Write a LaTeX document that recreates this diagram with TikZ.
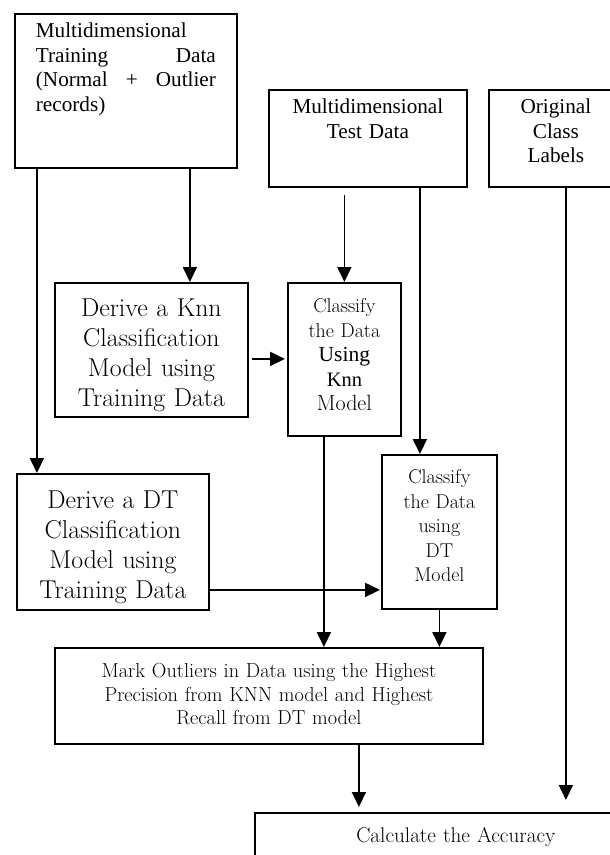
\documentclass[tikz,border=0pt]{standalone}
\usepackage{fontspec}
\usepackage{tikz}
\usetikzlibrary{arrows.meta}
\newfontfamily\timesfont{Liberation Serif}

\begin{document}
\begin{tikzpicture}[
  x=1pt, y=-1pt,
  box/.style={draw, line width=1.8pt, anchor=north west, inner xsep=6pt, inner ysep=8pt},
  times text/.style={font=\timesfont\fontsize{21.2}{24.5}\selectfont},
  big text/.style={font=\fontsize{25.8}{30}\selectfont, align=center, inner ysep=14pt},
  small text/.style={font=\fontsize{20}{24.5}\selectfont, align=center},
  arr/.style={line width=1.8pt, -{Triangle[length=15pt, width=14pt]}}
]
  \useasboundingbox (0,0) rectangle (610,855);

  % Input data
  \node[box, times text, align=left, text width=180pt, inner xsep=21pt, text height=16pt, text depth=122pt] (train) at (14,13)
    {Multidimensional\\Training\hfill Data\\(Normal\hfill+\hfill Outlier\\records)};
  \node[box, times text, align=center, text width=186pt, text height=16pt, text depth=65pt] (test) at (268,89)
    {Multidimensional\\Test Data};
  \node[box, times text, align=center, text width=122pt, text height=16pt, text depth=65pt] (labels) at (488,89)
    {Original\\Class\\Labels};

  % Models and classifiers
  \node[box, big text, text width=181pt, text height=20pt, text depth=86pt] (knnmodel) at (54,282)
    {Derive a Knn\\Classification\\Model using\\Training Data};
  \node[box, small text, text width=101pt, text height=22pt, text depth=115pt] (knnclassify) at (287,282)
    {Classify\\the Data\\{\timesfont\fontsize{21.5}{24}\selectfont Using}\\{\timesfont\fontsize{20.5}{24}\selectfont Knn}\\{\fontsize{22}{24}\selectfont Model}};
  \node[box, big text, text width=180pt, text height=21pt, text depth=87pt] (dtmodel) at (16,473)
    {Derive a DT\\Classification\\Model using\\Training Data};
  \node[box, small text, text width=103pt, text height=21pt, text depth=117pt] (dtclassify) at (381,454)
    {Classify\\the Data\\using\\DT\\Model};

  % Results
  \node[box, small text, font=\fontsize{20.3}{23.5}\selectfont, text width=416pt, text height=22pt, text depth=58pt] (mark) at (54,647)
    {Mark Outliers in Data using the Highest\\Precision from KNN model and Highest\\Recall from DT model};
  \node[box, small text, font=\fontsize{21.2}{24}\selectfont, text width=390pt, text height=22pt, text depth=48pt] (calc) at (254,812)
    {Calculate the Accuracy};

  % Training data edges
  \draw[arr] ([xshift=64pt]train.south) -- ([xshift=64pt]train.south |- knnmodel.north);
  \draw[arr] ([xshift=-89pt]train.south) -- ([xshift=-89pt]train.south |- dtmodel.north);

  % Test data edges
  \draw[arr] ([yshift=-7pt]test.south -| knnclassify.north) -- (knnclassify.north);
  \draw[arr] ([xshift=52pt]test.south) -- ([xshift=52pt]test.south |- dtclassify.north);

  % Model edges
  \draw[arr] ([xshift=3pt,yshift=-9pt]knnmodel.east) -- ([xshift=-2pt,yshift=-9pt]knnclassify.west |- knnmodel.east);
  \draw[arr] ([yshift=-48pt]dtmodel.east) -- ([xshift=-1pt,yshift=-48pt]dtclassify.west |- dtmodel.east);

  % Classifier edges
  \draw[arr] ([xshift=-20.5pt]knnclassify.south) -- ([xshift=-20.5pt]knnclassify.south |- mark.north);
  \draw[arr] (dtclassify.south) -- (dtclassify.south |- mark.north);

  % Accuracy edges
  \draw[arr] ([xshift=90pt]mark.south) -- ([xshift=90pt,yshift=5pt]mark.south |- calc.north);
  \draw[arr] ([xshift=10pt]labels.south) -- ([xshift=10pt,yshift=12pt]labels.south |- calc.north);
\end{tikzpicture}
\end{document}
